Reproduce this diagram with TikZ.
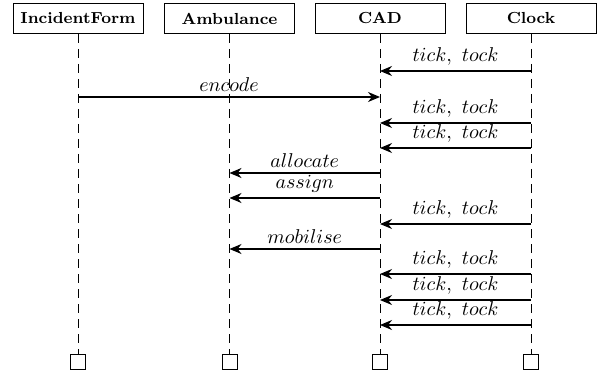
\documentclass[tikz,border=0pt]{standalone}
\usetikzlibrary{arrows.meta}
\begin{document}
\begin{tikzpicture}[x=0.5pt,y=-0.5pt,
  hdr/.style={draw,line width=0.5pt,minimum width=65pt,minimum height=15pt,inner sep=0pt,font=\footnotesize\bfseries},
  endbox/.style={draw,line width=0.5pt,minimum width=7.5pt,minimum height=7.5pt,inner sep=0pt},
  life/.style={line width=0.5pt,dash pattern=on 4.5pt off 3pt},
  msg/.style={line width=0.6pt,-{Stealth[length=6pt,width=5pt]}},
  lbl/.style={above=1.5pt,inner sep=1pt}]
\useasboundingbox (0,0) rectangle (614,379);
\node[hdr] (h1) at (78,18.5) {IncidentForm};
\node[hdr] (h2) at (229.5,18.5) {Ambulance};
\node[hdr] (h3) at (380,18.5) {CAD};
\node[hdr] (h4) at (531,18.5) {Clock};
\node[endbox] (e1) at (78,362) {};
\node[endbox] (e2) at (229.5,362) {};
\node[endbox] (e3) at (380,362) {};
\node[endbox] (e4) at (531,362) {};
\foreach \i in {1,2,3,4} \draw[life] (h\i.south) -- (e\i.north);
% messages
\foreach \y in {71,123,148,224,274,300,325}
  \draw[msg] (h4.south |- 0,\y) -- node[lbl] {$tick,\ tock$} (h3.south |- 0,\y);
\draw[msg] (h1.south |- 0,97) -- node[lbl] {$encode$} (h3.south |- 0,97);
\draw[msg] (h3.south |- 0,173) -- node[lbl] {$allocate$} (h2.south |- 0,173);
\draw[msg] (h3.south |- 0,198) -- node[lbl] {$assign$} (h2.south |- 0,198);
\draw[msg] (h3.south |- 0,249) -- node[lbl] {$mobilise$} (h2.south |- 0,249);
\end{tikzpicture}
\end{document}
